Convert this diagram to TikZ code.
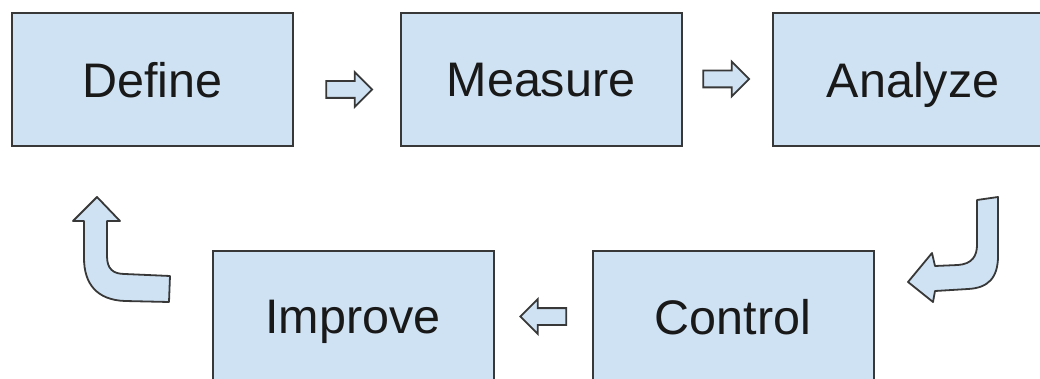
\documentclass[tikz,border=0pt]{standalone}
\usepackage{fontspec}
\setmainfont{Liberation Sans}
\usetikzlibrary{shapes.arrows}
\definecolor{boxblue}{HTML}{CFE2F3}
\definecolor{edgegray}{HTML}{383838}
\tikzset{
  stage/.style={draw=edgegray,fill=boxblue,line width=2pt,minimum width=281pt,
    minimum height=133pt,inner sep=0pt,text depth=0pt,
    font=\fontsize{48.5}{58}\selectfont,text=black!90},
  blockarrow/.style={single arrow,draw=edgegray,fill=boxblue,line width=1.8pt,
    inner xsep=0pt,inner ysep=7.5pt,minimum height=46pt,single arrow head extend=9pt},
  bentarrow/.style={draw=edgegray,fill=boxblue,line width=1.8pt,line join=round}
}
\begin{document}
\begin{tikzpicture}[x=1pt,y=-1pt]
  \useasboundingbox (0,0) rectangle (1040,379);
  \clip (0,0) rectangle (1040,379);
  \foreach \n/\t/\x/\y in {define/Define/152.5/79.5,measure/Measure/541/79.5,
    analyze/Analyze/913/79.5,improve/Improve/353/317,control/Control/733/317}
    \node[stage] (\n) at (\x,\y) {\t};
  \node[blockarrow] (dm) at (345,89.5) {};
  \node[blockarrow] (ma) at (722,79) {};
  \node[blockarrow,shape border rotate=180] (ci) at (547.5,316.5) {};
  \draw[bentarrow] (977,200) -- (998,197) -- (998,256)
    .. controls (998,278) and (988,288) .. (968,289) -- (935,291) -- (933,302)
    -- (908,282) -- (932,253) -- (935,266) -- (958,265)
    .. controls (972,264) and (977,256) .. (977,245) -- cycle;
  \draw[bentarrow] (97,197) -- (120,221) -- (107,221) -- (107,256)
    .. controls (107,269) and (113,274) .. (125,274) -- (170,276) -- (169,302)
    -- (125,301) .. controls (97,300) and (84,284) .. (84,258) -- (84,221)
    -- (73,221) -- cycle;
\end{tikzpicture}
\end{document}
